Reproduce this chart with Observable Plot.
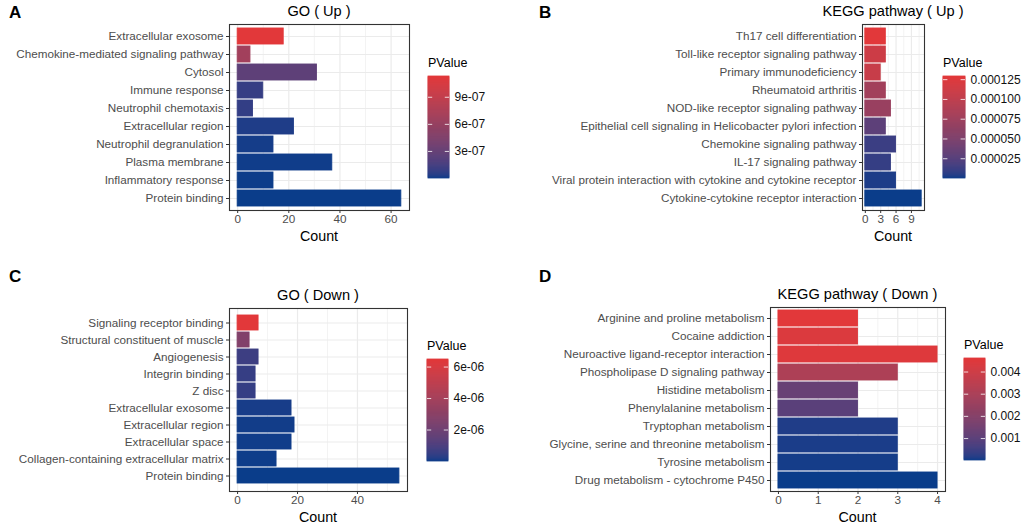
<!DOCTYPE html>
<html><head><meta charset="utf-8">
<script src="https://cdn.jsdelivr.net/npm/d3@7"></script>
<script src="https://cdn.jsdelivr.net/npm/@observablehq/plot@0.6"></script>
<style>
body{margin:0;background:#fff;}
#root{position:relative;width:1021px;height:527px;overflow:hidden;font-family:"Liberation Sans",Arial,sans-serif;background:#fff;}
.t{position:absolute;white-space:nowrap;color:#000;line-height:1;}
</style></head><body><div id="root"></div>
<script>
// ---------- Data ----------
const goUpTerms = ["Extracellular exosome","Chemokine-mediated signaling pathway","Cytosol","Immune response","Neutrophil chemotaxis","Extracellular region","Neutrophil degranulation","Plasma membrane","Inflammatory response","Protein binding"];
const goUpCounts = [18, 5, 31, 10, 6, 22, 14, 37, 14, 64];
const goUpP = [1.13e-6, 6.8e-7, 2.6e-7, 9e-8, 8e-8, 3e-8, 1.2e-8, 6e-9, 3e-9, 2e-10];
const goUpLegendTicks = [3e-7, 6e-7, 9e-7];
const goUpXTicks = [0, 20, 40, 60];

const keggUpTerms = ["Th17 cell differentiation","Toll-like receptor signaling pathway","Primary immunodeficiency","Rheumatoid arthritis","NOD-like receptor signaling pathway","Epithelial cell signaling in Helicobacter pylori infection","Chemokine signaling pathway","IL-17 signaling pathway","Viral protein interaction with cytokine and cytokine receptor","Cytokine-cytokine receptor interaction"];
const keggUpCounts = [4, 4, 3, 4, 5, 4, 6, 5, 6, 11];
const keggUpP = [1.29e-4, 1.11e-4, 1.07e-4, 7.8e-5, 7.1e-5, 2.9e-5, 1.2e-5, 1.0e-5, 3e-6, 1e-8];
const keggUpLegendTicks = [2.5e-5, 5e-5, 7.5e-5, 1e-4, 1.25e-4];
const keggUpXTicks = [0, 3, 6, 9];

const goDownTerms = ["Signaling receptor binding","Structural constituent of muscle","Angiogenesis","Integrin binding","Z disc","Extracellular exosome","Extracellular region","Extracellular space","Collagen-containing extracellular matrix","Protein binding"];
const goDownCounts = [7, 4, 7, 6, 6, 18, 19, 18, 13, 54];
const goDownP = [6.48e-6, 2.7e-6, 6.5e-7, 5.2e-7, 5e-7, 1e-7, 5e-8, 4e-8, 2e-8, 1e-9];
const goDownLegendTicks = [2e-6, 4e-6, 6e-6];
const goDownXTicks = [0, 20, 40];

const keggDownTerms = ["Arginine and proline metabolism","Cocaine addiction","Neuroactive ligand-receptor interaction","Phospholipase D signaling pathway","Histidine metabolism","Phenylalanine metabolism","Tryptophan metabolism","Glycine, serine and threonine metabolism","Tyrosine metabolism","Drug metabolism - cytochrome P450"];
const keggDownCounts = [2, 2, 4, 3, 2, 2, 3, 3, 3, 4];
const keggDownP = [0.00461, 0.00440, 0.00450, 0.00310, 0.00130, 0.00100, 0.00014, 0.00010, 0.00006, 0.00001];
const keggDownLegendTicks = [0.001, 0.002, 0.003, 0.004];
const keggDownXTicks = [0, 1, 2, 3, 4];

// ---------- Styling ----------
const LOW = "#0a3d8a", HIGH = "#e2383a";
const FONT = '"Liberation Sans", Arial, sans-serif';
const expFmt = d => d.toExponential(0).replace(/e([+-])(\d)$/, "e$10$2");

const panels = [
  {letter:"A", title:"GO ( Up )", terms:goUpTerms, counts:goUpCounts, p:goUpP, xTicks:goUpXTicks, lTicks:goUpLegendTicks, lFmt:expFmt,
   left:0, top:0, fx0:229, fx1:409, fy0:24, fy1:210, lx:428, ly:76, lw:21, lh:102, letterX:9, letterY:4},
  {letter:"B", title:"KEGG pathway ( Up )", terms:keggUpTerms, counts:keggUpCounts, p:keggUpP, xTicks:keggUpXTicks, lTicks:keggUpLegendTicks, lFmt:d3.format(".6f"),
   left:510, top:0, fx0:862, fx1:924, fy0:24, fy1:210, lx:943, ly:76, lw:22, lh:102, letterX:539, letterY:4},
  {letter:"C", title:"GO ( Down )", terms:goDownTerms, counts:goDownCounts, p:goDownP, xTicks:goDownXTicks, lTicks:goDownLegendTicks, lFmt:expFmt,
   left:0, top:270, fx0:229, fx1:407, fy0:308, fy1:491, lx:427, ly:359, lw:21, lh:102, letterX:9, letterY:268},
  {letter:"D", title:"KEGG pathway ( Down )", terms:keggDownTerms, counts:keggDownCounts, p:keggDownP, xTicks:keggDownXTicks, lTicks:keggDownLegendTicks, lFmt:d3.format(".3f"),
   left:510, top:270, fx0:770, fx1:945, fy0:307, fy1:491, lx:964, ly:358, lw:21, lh:102, letterX:539, letterY:268}
];

const root = document.getElementById("root");
function addText(txt, x, y, css) {
  const d = document.createElement("div");
  d.className = "t"; d.textContent = txt;
  d.style.left = x + "px"; d.style.top = y + "px";
  Object.assign(d.style, css || {});
  root.appendChild(d); return d;
}

for (const P of panels) {
  const data = P.terms.map((t, i) => ({term: t, count: P.counts[i], p: P.p[i]}));
  const maxC = d3.max(P.counts);
  const ex = maxC * 0.05;
  const pExt = d3.extent(P.p);
  const step = P.xTicks[1] - P.xTicks[0];
  const minor = d3.range(step / 2, maxC + ex, step);
  const colorOpts = {type: "linear", domain: pExt, range: [LOW, HIGH], interpolate: d3.interpolateLab};

  const W = P.fx1 + 6 - P.left, H = P.fy1 + 22 - P.top;
  const chart = Plot.plot({
    width: W, height: H,
    marginLeft: P.fx0 - P.left, marginRight: 6, marginTop: P.fy0 - P.top, marginBottom: 22,
    style: {fontFamily: FONT, fontSize: "11.7px", background: "transparent", overflow: "visible"},
    x: {domain: [-ex, maxC + ex], label: null},
    y: {domain: P.terms, paddingInner: 0.1, paddingOuter: 0.15, label: null},
    color: colorOpts,
    marks: [
      Plot.gridX(minor, {stroke: "#ebebeb", strokeOpacity: 1, strokeWidth: 0.6}),
      Plot.gridX(P.xTicks, {stroke: "#ebebeb", strokeOpacity: 1, strokeWidth: 1.2}),
      Plot.gridY(P.terms, {stroke: "#ebebeb", strokeOpacity: 1, strokeWidth: 1.2}),
      Plot.barX(data, {y: "term", x: "count", fill: "p", stroke: "p", strokeWidth: 0.9}),
      Plot.axisY({tickSize: 3, tickPadding: 3, stroke: "#333", fill: "#4d4d4d", fontSize: 11.7, label: null}),
      Plot.axisX({ticks: P.xTicks, tickFormat: d => String(d), tickSize: 3, tickPadding: 1.5, stroke: "#333", fill: "#4d4d4d", fontSize: 11.7, label: null}),
      Plot.frame({stroke: "#333", strokeWidth: 1.1})
    ]
  });
  chart.style.position = "absolute";
  chart.style.left = P.left + "px";
  chart.style.top = P.top + "px";
  root.appendChild(chart);

  // Titles and labels
  const cx = (P.fx0 + P.fx1) / 2;
  addText(P.title, cx, P.fy0 - 20, {fontSize: "14.6px", transform: "translateX(-50%)"});
  addText("Count", cx, P.fy1 + 19, {fontSize: "14.3px", transform: "translateX(-50%)"});
  addText(P.letter, P.letterX, P.letterY, {fontSize: "17px", fontWeight: "bold"});
  addText("PValue", P.lx, P.ly - 19, {fontSize: "12.5px"});

  // Legend colour bar
  const n = 100;
  const steps = d3.range(n).map(i => ({
    y1: pExt[0] + (pExt[1] - pExt[0]) * i / n,
    y2: pExt[0] + (pExt[1] - pExt[0]) * (i + 1) / n
  }));
  const leg = Plot.plot({
    width: P.lw + 70, height: P.lh,
    marginLeft: 0, marginRight: 70, marginTop: 0, marginBottom: 0,
    style: {fontFamily: FONT, fontSize: "12px", background: "transparent", overflow: "visible"},
    x: {domain: [0, 1], axis: null},
    y: {domain: pExt, label: null},
    color: colorOpts,
    marks: [
      Plot.rect(steps, {x1: 0, x2: 1, y1: "y1", y2: "y2", fill: d => (d.y1 + d.y2) / 2, stroke: d => (d.y1 + d.y2) / 2, strokeWidth: 0.8}),
      Plot.ruleY(P.lTicks, {x1: 0, x2: 0.2, stroke: "white", strokeOpacity: 0.8, strokeWidth: 1}),
      Plot.ruleY(P.lTicks, {x1: 0.8, x2: 1, stroke: "white", strokeOpacity: 0.8, strokeWidth: 1}),
      Plot.axisY({anchor: "right", ticks: P.lTicks, tickFormat: P.lFmt, tickSize: 0, tickPadding: 5, fill: "#111", fontSize: 12, label: null})
    ]
  });
  leg.style.position = "absolute";
  leg.style.left = P.lx + "px";
  leg.style.top = P.ly + "px";
  root.appendChild(leg);
}
</script></body></html>
